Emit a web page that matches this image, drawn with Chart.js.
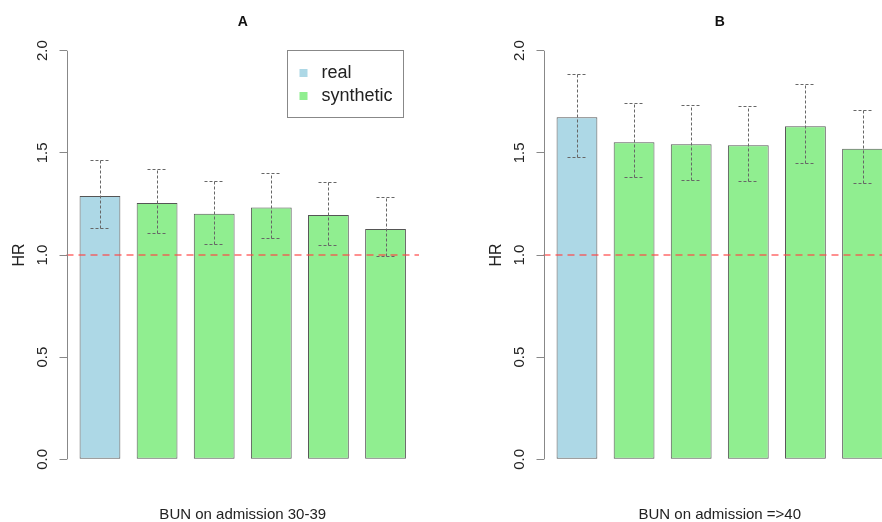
<!DOCTYPE html>
<html><head><meta charset="utf-8">
<script src="https://cdn.jsdelivr.net/npm/chart.js@4.4.1/dist/chart.umd.min.js"></script>
<style>
html,body{margin:0;padding:0;background:#fff;overflow:hidden;width:882px;height:522px;position:relative;}
.p{position:absolute;top:0;width:477px;height:522px;}
</style></head><body>
<div class="p" style="left:0"><canvas id="cA" width="477" height="522"></canvas></div>
<div class="p" style="left:477px"><canvas id="cB" width="477" height="522"></canvas></div>
<script>
// ---- data ----
const barKinds = ['real','synthetic','synthetic','synthetic','synthetic','synthetic'];
const positions = [1,2,3,4,5,6];
const hrA   = [1.289, 1.255, 1.202, 1.233, 1.196, 1.127];
const lowA  = [1.131, 1.108, 1.055, 1.085, 1.050, 0.995];
const highA = [1.463, 1.421, 1.364, 1.400, 1.359, 1.285];
const hrB   = [1.674, 1.552, 1.542, 1.537, 1.630, 1.520];
const lowB  = [1.481, 1.380, 1.367, 1.361, 1.449, 1.351];
const highB = [1.886, 1.745, 1.734, 1.729, 1.837, 1.710];
const yTicks = [0, 0.5, 1, 1.5, 2];
const yTickLabels = ['0.0', '0.5', '1.0', '1.5', '2.0'];
const refLine = 1.0;
const legendLabels = ['real', 'synthetic'];

const kindColor = {real: '#ADD8E6', synthetic: '#90EE90'};
const FONT = '"Liberation Sans", Arial, Helvetica, sans-serif';
Chart.defaults.font.family = FONT;
Chart.defaults.color = '#222';

const overlay = {
  id: 'overlay',
  afterDatasetsDraw(chart, args, opts) {
    const {ctx, chartArea, scales: {y}} = chart;
    const meta = chart.getDatasetMeta(0);
    ctx.save();
    // error bars
    ctx.strokeStyle = '#666';
    ctx.lineWidth = 1;
    ctx.setLineDash([3, 2]);
    meta.data.forEach((bar, i) => {
      const x = Math.round(bar.x) + 0.5;
      const yl = Math.round(y.getPixelForValue(opts.low[i])) + 0.5;
      const yh = Math.round(y.getPixelForValue(opts.high[i])) + 0.5;
      ctx.beginPath();
      ctx.moveTo(x, yl); ctx.lineTo(x, yh);
      ctx.moveTo(x - 10, yl); ctx.lineTo(x + 10, yl);
      ctx.moveTo(x - 10, yh); ctx.lineTo(x + 10, yh);
      ctx.stroke();
    });
    // reference line
    ctx.setLineDash([7, 5]);
    ctx.strokeStyle = 'rgba(255,70,70,0.8)';
    ctx.lineWidth = 1.5;
    const yr = y.getPixelForValue(refLine);
    ctx.beginPath();
    ctx.moveTo(chartArea.left, yr); ctx.lineTo(chartArea.right, yr);
    ctx.stroke();
    // y axis line (0 to 2 only, R style)
    ctx.setLineDash([]);
    ctx.strokeStyle = '#888';
    ctx.lineWidth = 1;
    const xa = Math.round(chartArea.left) + 0.5;
    ctx.beginPath();
    ctx.moveTo(xa, y.getPixelForValue(yTicks[0]));
    ctx.lineTo(xa, y.getPixelForValue(yTicks[yTicks.length - 1]));
    ctx.stroke();
    // legend
    if (opts.legend) {
      ctx.strokeStyle = '#888';
      ctx.strokeRect(287.5, 50.5, 116, 67);
      ctx.font = '18px ' + FONT;
      ctx.textBaseline = 'middle';
      ctx.textAlign = 'left';
      const rows = [73, 96];
      legendLabels.forEach((lab, k) => {
        ctx.fillStyle = kindColor[lab];
        ctx.fillRect(299.5, rows[k] - 4, 8, 8);
        ctx.fillStyle = '#222';
        ctx.fillText(lab, 321.5, rows[k]);
      });
    }
    ctx.restore();
  }
};

function makeChart(id, title, xlabel, hr, low, high, legend) {
  return new Chart(document.getElementById(id), {
    type: 'bar',
    data: {
      datasets: [{
        data: positions.map((p, i) => ({x: p, y: hr[i]})),
        backgroundColor: barKinds.map(k => kindColor[k]),
        borderColor: '#555',
        borderWidth: 1,
        borderSkipped: false,
        categoryPercentage: 1,
        barPercentage: 1 / 1.4
      }]
    },
    options: {
      responsive: false,
      animation: false,
      devicePixelRatio: 1,
      layout: {padding: {left: 0, right: 58, top: 0, bottom: 0}},
      plugins: {
        legend: {display: false},
        tooltip: {enabled: false},
        title: {
          display: true, text: title, fullSize: false, color: '#111',
          font: {size: 14, weight: 'bold'},
          padding: {top: 13.3, bottom: 4.25}
        },
        overlay: {low: low, high: high, legend: legend}
      },
      scales: {
        x: {
          type: 'linear', min: 0.414, max: 6.586, offset: false,
          ticks: {display: false},
          grid: {display: false},
          border: {display: false},
          title: {display: true, text: xlabel, color: '#222',
                  font: {size: 15, lineHeight: '14px'}, padding: {top: 0, bottom: 0}},
          afterFit(s) { s.height = 46.3; }
        },
        y: {
          min: -0.08, max: 2.08,
          afterBuildTicks(s) { s.ticks = yTicks.map(v => ({value: v})); },
          ticks: {
            callback: (v) => yTickLabels[yTicks.indexOf(v)],
            minRotation: 90, maxRotation: 90,
            crossAlign: 'center', padding: 6,
            color: '#222', font: {size: 15}
          },
          grid: {display: true, drawOnChartArea: false, drawTicks: true, tickLength: 7, color: '#888'},
          border: {display: false},
          title: {display: true, text: 'HR', color: '#222', font: {size: 16}, padding: {top: 10, bottom: 0}},
          afterFit(s) { s.width = 66.5; }
        }
      }
    },
    plugins: [overlay]
  });
}

makeChart('cA', 'A', 'BUN on admission 30-39', hrA, lowA, highA, true);
makeChart('cB', 'B', 'BUN on admission =>40', hrB, lowB, highB, false);
</script>
</body></html>
